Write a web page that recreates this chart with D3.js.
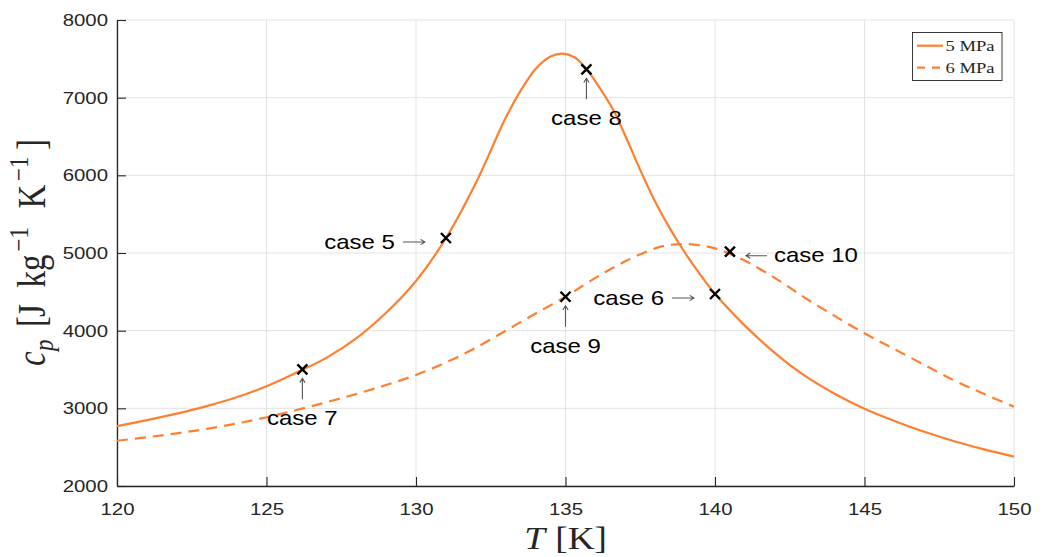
<!DOCTYPE html>
<html>
<head>
<meta charset="utf-8">
<script src="https://cdn.jsdelivr.net/npm/d3@7"></script>
<style>
  html, body { margin: 0; padding: 0; background: #ffffff; }
  svg { display: block; }
</style>
</head>
<body>
<svg id="chart" width="1046" height="557"></svg>
<script>
// Specific heat of nitrogen near the pseudo-critical point, two pressures
const temps5 = [120, 121, 122, 123, 124, 125, 126, 127, 128, 129, 130, 131, 132, 133, 133.5, 134, 134.5, 134.9, 135.3, 135.7, 136, 136.6, 137, 137.5, 138, 138.5, 139, 139.5, 140, 141, 142, 143, 144, 145, 146, 147, 148, 149, 150];
const cp5    = [2770, 2848, 2932, 3028, 3142, 3285, 3460, 3650, 3900, 4230, 4640, 5190, 5900, 6740, 7090, 7370, 7530, 7568, 7520, 7370, 7210, 6840, 6510, 6070, 5660, 5310, 5000, 4725, 4475, 4065, 3715, 3420, 3188, 2995, 2838, 2698, 2577, 2472, 2378];

const temps6 = [120, 121, 122, 123, 124, 125, 126, 127, 128, 129, 130, 131, 132, 133, 134, 135, 136, 137, 138, 138.5, 139, 139.5, 140, 140.5, 141, 142, 143, 144, 145, 146, 147, 148, 149, 150];
const cp6    = [2583, 2628, 2678, 2735, 2805, 2885, 2978, 3078, 3185, 3300, 3430, 3590, 3780, 4000, 4220, 4437, 4680, 4893, 5060, 5105, 5115, 5098, 5060, 4990, 4900, 4680, 4425, 4190, 3966, 3762, 3560, 3360, 3185, 3021];

const seriesNames = ["5 MPa", "6 MPa"];

const caseNames = ["case 5", "case 6", "case 7", "case 8", "case 9", "case 10"];
const caseT     = [131.0, 140.0, 126.2, 135.7, 135.0, 140.5];
const caseCp    = [5193, 4472, 3502, 7365, 4437, 5017];

const xTicks = [120, 125, 130, 135, 140, 145, 150];
const yTicks = [2000, 3000, 4000, 5000, 6000, 7000, 8000];

// layout
const plotL = 117, plotR = 1014, plotT = 20, plotB = 486;
const SX = 1.2;            // horizontal glyph stretch used for all text
const axisColor = "#262626";
const lineColor = "#ff7f30";
const sans = "'Liberation Sans', Arial, Helvetica, sans-serif";
const serif = "'Liberation Serif', 'Times New Roman', serif";

const svg = d3.select("#chart");

const x = d3.scaleLinear().domain([120, 150]).range([plotL, plotR]);
const y = d3.scaleLinear().domain([2000, 8000]).range([plotB, plotT]);

// grid
const grid = svg.append("g").attr("stroke", "#e3e3e3").attr("stroke-width", 1);
grid.selectAll("line.gx").data(xTicks).join("line")
  .attr("x1", d => x(d)).attr("x2", d => x(d))
  .attr("y1", plotT).attr("y2", plotB);
grid.selectAll("line.gy").data(yTicks).join("line")
  .attr("x1", plotL).attr("x2", plotR)
  .attr("y1", d => y(d)).attr("y2", d => y(d));

// axes (ticks point inward)
const xAxis = svg.append("g")
  .attr("transform", `translate(0,${plotB})`)
  .call(d3.axisBottom(x).tickValues(xTicks).tickSizeInner(-9).tickSizeOuter(0).tickPadding(17).tickFormat(d3.format("d")));
const yAxis = svg.append("g")
  .attr("transform", `translate(${plotL},0)`)
  .call(d3.axisLeft(y).tickValues(yTicks).tickSizeInner(-9).tickSizeOuter(0).tickPadding(7.5).tickFormat(d3.format("d")));

[xAxis, yAxis].forEach(a => {
  a.select(".domain").attr("stroke", axisColor).attr("stroke-width", 1.3);
  a.selectAll(".tick line").attr("stroke", axisColor).attr("stroke-width", 1.1);
  a.selectAll(".tick text")
    .attr("fill", axisColor)
    .attr("font-family", sans)
    .attr("font-size", 17)
    .attr("transform", `scale(${SX},1)`);
});

// curves
const line = d3.line()
  .x(d => x(d[0]))
  .y(d => y(d[1]))
  .curve(d3.curveCatmullRom.alpha(0.5));

svg.append("path")
  .datum(d3.zip(temps5, cp5))
  .attr("fill", "none")
  .attr("stroke", lineColor)
  .attr("stroke-width", 2.2)
  .attr("d", line);

svg.append("path")
  .datum(d3.zip(temps6, cp6))
  .attr("fill", "none")
  .attr("stroke", lineColor)
  .attr("stroke-width", 2.2)
  .attr("stroke-dasharray", "11,7")
  .attr("d", line);

// case markers
const ms = 5;
const marks = svg.append("g").attr("stroke", "#000").attr("stroke-width", 2.4).attr("fill", "none");
caseT.forEach((t, i) => {
  const px = x(t), py = y(caseCp[i]);
  marks.append("path")
    .attr("d", `M${px - ms},${py - ms}L${px + ms},${py + ms}M${px - ms},${py + ms}L${px + ms},${py - ms}`);
});

// annotation helpers
function stretchedText(parent, px, py, str, anchor, size, family) {
  return parent.append("text")
    .attr("transform", `translate(${px},${py}) scale(${SX},1)`)
    .attr("text-anchor", anchor)
    .attr("font-family", family || sans)
    .attr("font-size", size)
    .attr("fill", "#000")
    .text(str);
}
function arrow(parent, x1, y1, x2, y2) {
  const ang = Math.atan2(y2 - y1, x2 - x1), h = 5, spread = 0.55;
  const ax = x2 - h * Math.cos(ang - spread), ay = y2 - h * Math.sin(ang - spread);
  const bx = x2 - h * Math.cos(ang + spread), by = y2 - h * Math.sin(ang + spread);
  parent.append("path")
    .attr("d", `M${x1},${y1}L${x2},${y2}M${ax},${ay}L${x2},${y2}L${bx},${by}`)
    .attr("fill", "none")
    .attr("stroke", "#555")
    .attr("stroke-width", 1.1);
}

// where each label sits relative to its marker
const caseSide = ["left", "left", "below", "below", "below", "right"];
const ann = svg.append("g");
caseT.forEach((t, i) => {
  const px = x(t), py = y(caseCp[i]);
  const side = caseSide[i];
  if (side === "left") {
    arrow(ann, px - 43, py + 4, px - 21, py + 4);
    stretchedText(ann, px - 51, py + 10.5, caseNames[i], "end", 20);
  } else if (side === "right") {
    arrow(ann, px + 37, py + 4, px + 16, py + 4);
    stretchedText(ann, px + 44, py + 10.5, caseNames[i], "start", 20);
  } else {
    arrow(ann, px, py + 30, px, py + 9);
    stretchedText(ann, px, py + 56, caseNames[i], "middle", 20);
  }
});

// x axis title
const xl = svg.append("text")
  .attr("transform", `translate(${(plotL + plotR) / 2},${549}) scale(${SX},1)`)
  .attr("text-anchor", "middle")
  .attr("font-family", serif)
  .attr("font-size", 31)
  .attr("fill", axisColor);
xl.append("tspan").attr("font-style", "italic").text("T");
xl.append("tspan").attr("dx", "0.28em").text("[K]");

// y axis title, laid out piece by piece along the rotated baseline
const ylPieces = [
  { t: "c",       at: 0,     shift: 0,   size: 33, italic: true },
  { t: "p",       at: 15,    shift: 7,   size: 23, italic: true },
  { t: "[",       at: 39,    shift: 0,   size: 33 },
  { t: "J",       at: 49,    shift: 0,   size: 33 },
  { t: "kg",      at: 78.5,  shift: 0,   size: 33 },
  { t: "\u22121", at: 114.5, shift: -14, size: 23 },
  { t: "K",       at: 157.5, shift: 0,   size: 33 },
  { t: "\u22121", at: 185,   shift: -14, size: 23 },
  { t: "]",       at: 216,   shift: 0,   size: 33 }
];
const yl = svg.append("text")
  .attr("transform", `translate(45,${(plotT + plotB) / 2 + 113}) scale(${SX},1) rotate(-90)`)
  .attr("text-anchor", "start")
  .attr("font-family", serif)
  .attr("fill", axisColor);
ylPieces.forEach(p => {
  yl.append("tspan")
    .attr("x", p.at)
    .attr("y", p.shift)
    .attr("font-size", p.size)
    .attr("font-style", p.italic ? "italic" : "normal")
    .text(p.t);
});

// legend
const lg = svg.append("g");
lg.append("rect")
  .attr("x", 912.5).attr("y", 32.5).attr("width", 89.5).attr("height", 48)
  .attr("fill", "#fff").attr("stroke", axisColor).attr("stroke-width", 0.9);
const legendDash = [null, "8,7"];
seriesNames.forEach((name, i) => {
  const ly = 45.7 + i * 22;
  lg.append("line")
    .attr("x1", 917).attr("x2", 943).attr("y1", ly).attr("y2", ly)
    .attr("stroke", lineColor).attr("stroke-width", 2.2)
    .attr("stroke-dasharray", legendDash[i]);
  stretchedText(lg, 945.5, ly + 5.3, name, "start", 15.5, serif).attr("fill", axisColor);
});
</script>
</body>
</html>
